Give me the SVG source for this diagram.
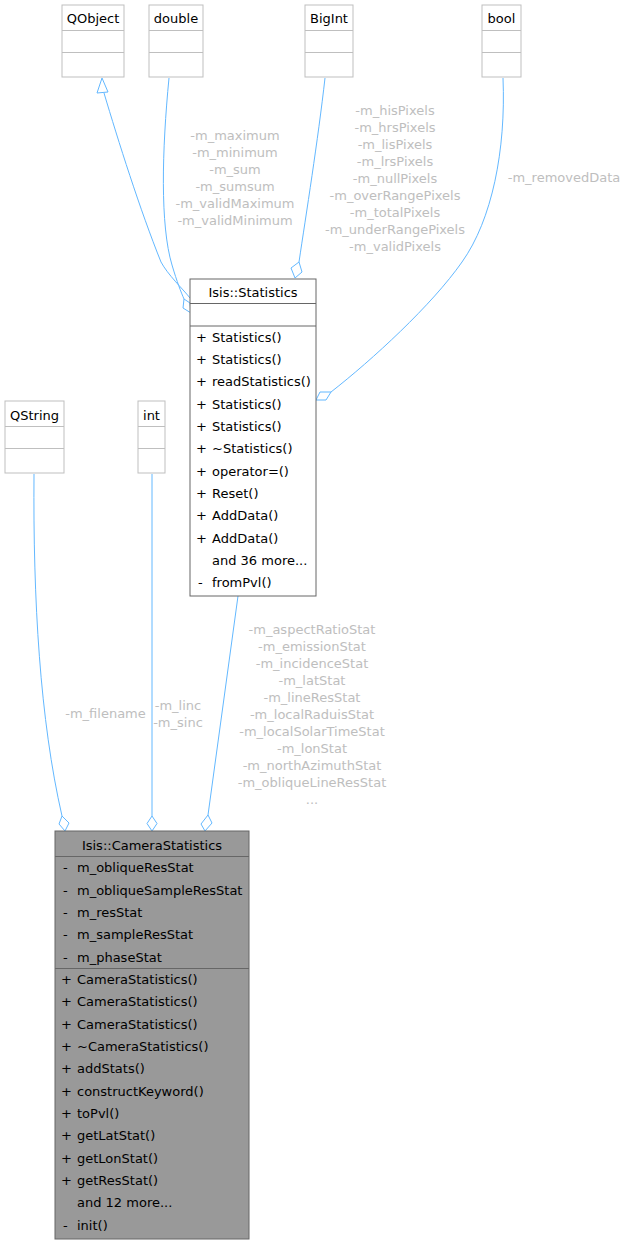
<svg xmlns="http://www.w3.org/2000/svg" width="627" height="1244" viewBox="0 0 627 1244">
<style>
text{font-family:"DejaVu Sans","Liberation Sans",sans-serif;font-size:13px;fill:#000}
.c{text-anchor:middle}
.lbl{fill:#bebebe;text-anchor:middle}
.ext{fill:#fff;stroke:#bfbfbf;stroke-width:1}
.cls{fill:#fff;stroke:#666;stroke-width:1}
.cur{fill:#999;stroke:#666;stroke-width:1}
.sep{stroke:#bfbfbf;stroke-width:1}
.sepd{stroke:#666;stroke-width:1}
.e{fill:none;stroke:#63b8ff;stroke-width:1}
.ah{fill:#fff;stroke:#63b8ff;stroke-width:1}
</style>
<rect width="627" height="1244" fill="#fff"/>

<g id="connectors">
  <!-- QObject inheritance -->
  <path class="e" d="M190,298 C182,288 168,275 161,262 C140,210 118,140 104,93"/>
  <polygon class="ah" points="102,78 97,93 108,92"/>
  <!-- double -->
  <path class="e" d="M169,78 C162,150 160,225 172,265 C177,282 181,292 184,299"/>
  <polygon class="ah" points="184,299 190,303 191,313 183,308"/>
  <!-- BigInt -->
  <path class="e" d="M325,78 C318,140 306,215 299,262"/>
  <polygon class="ah" points="299,262 302,272 295,278 291,268"/>
  <!-- bool -->
  <path class="e" d="M503,78 C506,150 492,220 462,262 C432,305 372,360 331,392"/>
  <polygon class="ah" points="331,392 326,400 316,400 320,392"/>
  <!-- QString -->
  <path class="e" d="M34,474 C33,600 40,720 62,816"/>
  <polygon class="ah" points="62,816 69,823 65,831 59,824"/>
  <!-- int -->
  <path class="e" d="M152,474 L152,816"/>
  <polygon class="ah" points="152,816 157,823.5 152,831 147,823.5"/>
  <!-- Statistics -->
  <path class="e" d="M238,596 L208,815"/>
  <polygon class="ah" points="208,815 212,823 205,831 201,824"/>

  <!-- labels -->
  <text class="lbl" x="235" y="140">-m_maximum</text>
  <text class="lbl" x="235" y="157">-m_minimum</text>
  <text class="lbl" x="235" y="174">-m_sum</text>
  <text class="lbl" x="235" y="191">-m_sumsum</text>
  <text class="lbl" x="235" y="208">-m_validMaximum</text>
  <text class="lbl" x="235" y="225">-m_validMinimum</text>

  <text class="lbl" x="395" y="114.5">-m_hisPixels</text>
  <text class="lbl" x="395" y="131.5">-m_hrsPixels</text>
  <text class="lbl" x="395" y="148.5">-m_lisPixels</text>
  <text class="lbl" x="395" y="165.5">-m_lrsPixels</text>
  <text class="lbl" x="395" y="182.5">-m_nullPixels</text>
  <text class="lbl" x="395" y="199.5">-m_overRangePixels</text>
  <text class="lbl" x="395" y="216.5">-m_totalPixels</text>
  <text class="lbl" x="395" y="233.5">-m_underRangePixels</text>
  <text class="lbl" x="395" y="250.5">-m_validPixels</text>

  <text class="lbl" x="564" y="182">-m_removedData</text>

  <text class="lbl" x="105.5" y="718">-m_filename</text>

  <text class="lbl" x="178" y="709.5">-m_linc</text>
  <text class="lbl" x="178" y="726.5">-m_sinc</text>

  <text class="lbl" x="312" y="633.5">-m_aspectRatioStat</text>
  <text class="lbl" x="312" y="650.5">-m_emissionStat</text>
  <text class="lbl" x="312" y="667.5">-m_incidenceStat</text>
  <text class="lbl" x="312" y="684.5">-m_latStat</text>
  <text class="lbl" x="312" y="701.5">-m_lineResStat</text>
  <text class="lbl" x="312" y="718.5">-m_localRaduisStat</text>
  <text class="lbl" x="312" y="735.5">-m_localSolarTimeStat</text>
  <text class="lbl" x="312" y="752.5">-m_lonStat</text>
  <text class="lbl" x="312" y="769.5">-m_northAzimuthStat</text>
  <text class="lbl" x="312" y="786.5">-m_obliqueLineResStat</text>
  <text class="lbl" x="312" y="803.5">...</text>
</g>

<g id="QObject">
  <rect class="ext" x="62" y="5" width="62" height="72"/>
  <line class="sep" x1="62" y1="30.5" x2="124" y2="30.5"/>
  <line class="sep" x1="62" y1="52.5" x2="124" y2="52.5"/>
  <text class="c" x="93" y="23">QObject</text>
</g>
<g id="double">
  <rect class="ext" x="149" y="5" width="54" height="72"/>
  <line class="sep" x1="149" y1="30.5" x2="203" y2="30.5"/>
  <line class="sep" x1="149" y1="52.5" x2="203" y2="52.5"/>
  <text class="c" x="176" y="23">double</text>
</g>
<g id="BigInt">
  <rect class="ext" x="305" y="5" width="48" height="72"/>
  <line class="sep" x1="305" y1="30.5" x2="353" y2="30.5"/>
  <line class="sep" x1="305" y1="52.5" x2="353" y2="52.5"/>
  <text class="c" x="329" y="23">BigInt</text>
</g>
<g id="bool">
  <rect class="ext" x="482" y="5" width="39" height="72"/>
  <line class="sep" x1="482" y1="30.5" x2="521" y2="30.5"/>
  <line class="sep" x1="482" y1="52.5" x2="521" y2="52.5"/>
  <text class="c" x="501.5" y="23">bool</text>
</g>

<g id="Statistics">
  <rect class="cls" x="190" y="279" width="126" height="317"/>
  <line class="sepd" x1="190" y1="303.5" x2="316" y2="303.5"/>
  <line class="sepd" x1="190" y1="326" x2="316" y2="326"/>
  <text class="c" x="253" y="297">Isis::Statistics</text>
  <g>
    <text x="196" y="341.5">+</text><text x="212" y="341.5">Statistics()</text>
    <text x="196" y="363.8">+</text><text x="212" y="363.8">Statistics()</text>
    <text x="196" y="386.2">+</text><text x="212" y="386.2">readStatistics()</text>
    <text x="196" y="408.5">+</text><text x="212" y="408.5">Statistics()</text>
    <text x="196" y="430.8">+</text><text x="212" y="430.8">Statistics()</text>
    <text x="196" y="453.2">+</text><text x="212" y="453.2">~Statistics()</text>
    <text x="196" y="475.5">+</text><text x="212" y="475.5">operator=()</text>
    <text x="196" y="497.8">+</text><text x="212" y="497.8">Reset()</text>
    <text x="196" y="520.2">+</text><text x="212" y="520.2">AddData()</text>
    <text x="196" y="542.5">+</text><text x="212" y="542.5">AddData()</text>
    <text x="212" y="564.8">and 36 more...</text>
    <text x="198" y="587.2">-</text><text x="212" y="587.2">fromPvl()</text>
  </g>
</g>

<g id="QString">
  <rect class="ext" x="5" y="401" width="59" height="72"/>
  <line class="sep" x1="5" y1="426.5" x2="64" y2="426.5"/>
  <line class="sep" x1="5" y1="448.5" x2="64" y2="448.5"/>
  <text class="c" x="34.5" y="419.5">QString</text>
</g>
<g id="int">
  <rect class="ext" x="138" y="401" width="27" height="72"/>
  <line class="sep" x1="138" y1="426.5" x2="165" y2="426.5"/>
  <line class="sep" x1="138" y1="448.5" x2="165" y2="448.5"/>
  <text class="c" x="151.5" y="419.5">int</text>
</g>

<g id="CameraStatistics">
  <rect class="cur" x="55" y="831" width="194" height="408"/>
  <line class="sepd" x1="55" y1="856.5" x2="249" y2="856.5"/>
  <line class="sepd" x1="55" y1="968.5" x2="249" y2="968.5"/>
  <text class="c" x="152" y="850">Isis::CameraStatistics</text>
  <text x="63" y="872.2">-</text><text x="77" y="872.2">m_obliqueResStat</text>
  <text x="63" y="894.5">-</text><text x="77" y="894.5">m_obliqueSampleResStat</text>
  <text x="63" y="916.8">-</text><text x="77" y="916.8">m_resStat</text>
  <text x="63" y="939.2">-</text><text x="77" y="939.2">m_sampleResStat</text>
  <text x="63" y="961.5">-</text><text x="77" y="961.5">m_phaseStat</text>
  <text x="61" y="983.8">+</text><text x="77" y="983.8">CameraStatistics()</text>
  <text x="61" y="1006.2">+</text><text x="77" y="1006.2">CameraStatistics()</text>
  <text x="61" y="1028.5">+</text><text x="77" y="1028.5">CameraStatistics()</text>
  <text x="61" y="1050.8">+</text><text x="77" y="1050.8">~CameraStatistics()</text>
  <text x="61" y="1073.2">+</text><text x="77" y="1073.2">addStats()</text>
  <text x="61" y="1095.5">+</text><text x="77" y="1095.5">constructKeyword()</text>
  <text x="61" y="1117.8">+</text><text x="77" y="1117.8">toPvl()</text>
  <text x="61" y="1140.2">+</text><text x="77" y="1140.2">getLatStat()</text>
  <text x="61" y="1162.5">+</text><text x="77" y="1162.5">getLonStat()</text>
  <text x="61" y="1184.8">+</text><text x="77" y="1184.8">getResStat()</text>
  <text x="77" y="1207.2">and 12 more...</text>
  <text x="63" y="1229.5">-</text><text x="77" y="1229.5">init()</text>
</g>
</svg>
